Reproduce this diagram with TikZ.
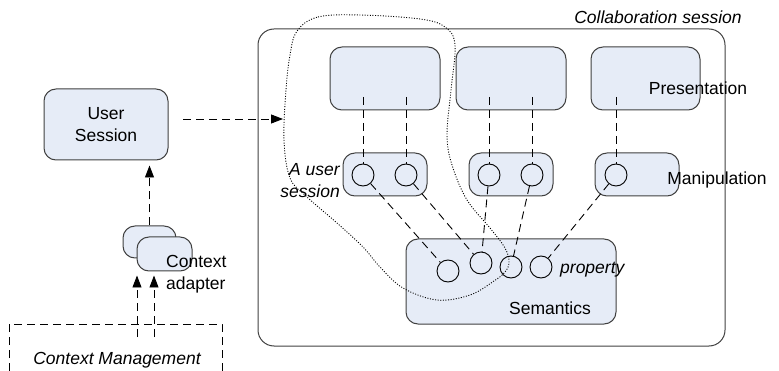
\documentclass[tikz,border=0pt]{standalone}
\usepackage{fontspec}
\setmainfont{Liberation Sans}
\usetikzlibrary{arrows.meta}
\usetikzlibrary{calc}
\definecolor{boxfill}{RGB}{230,236,247}
\definecolor{boxline}{RGB}{64,64,64}
\tikzset{
	txt/.style={inner sep=0pt, font=\fontsize{17.5}{22}\selectfont},
	itxt/.style={txt, font=\fontsize{17.5}{22}\selectfont\itshape},
	block/.style={draw=boxline, line width=1pt, fill=boxfill, rounded corners=12pt, inner sep=0pt},
	port/.style={draw=black, line width=0.9pt, fill=boxfill, circle, minimum size=22pt, inner sep=0pt},
	link/.style={line width=0.9pt, dash pattern=on 8pt off 5pt},
	flow/.style={link, -{Triangle[length=12pt,width=9pt]}},
}
\newcommand{\blockat}[5] % name, x, y, width, height
{
	\node[block, minimum width=#4pt, minimum height=#5pt] (#1) at (#2,#3) {};
}

\begin{document}
\begin{tikzpicture}[x=1pt, y=-1pt]
	\useasboundingbox (0,0) rectangle (779,371);

	% left side: user session and context
	\blockat{us}{106}{124.5}{124}{71}
	\node[txt, align=center] (ustxt) at (us) {User\\Session};
	\blockat{ca1}{149.5}{242}{53}{32}
	\blockat{ca2}{164.5}{254}{55}{34}
	\node[txt, align=left, anchor=west] (catxt) at (166,274) {Context\\adapter};

	% context management (open at the bottom)
	\draw[link] (9,371) -- (9,324) -- (222,324) -- (222,371);
	\node[itxt] (cmtxt) at (117,360) {Context Management};
	\coordinate (cm1) at (137,337);
	\coordinate (cm2) at (154,337);
	\draw[flow, shorten >=4pt] (cm1) -- (cm1 |- ca2.south);
	\draw[flow, shorten >=4pt] (cm2) -- (cm2 |- ca2.south);
	\draw[flow, shorten >=5pt] (ca1.north) -- (ca1.north |- us.south);

	% collaboration session
	\node[draw=boxline, line width=1pt, rounded corners=16pt, minimum width=467pt, minimum height=317pt] (collab) at (491.5,187.5) {};
	\node[itxt] (collabtxt) at (658,17) {Collaboration session};
	\coordinate (usout) at (183,119);
	\coordinate (usin) at (283,119);
	\draw[flow] (usout) -- (usin);

	% presentation layer
	\blockat{p1}{385}{78.5}{110}{63}
	\blockat{p2}{511}{78.5}{110}{63}
	\blockat{p3}{645.5}{78.5}{109}{63}
	\node[txt] (ptxt) at (698,88) {Presentation};

	% manipulation layer
	\blockat{m1}{385}{174.5}{84}{43}
	\blockat{m2}{511}{174.5}{84}{43}
	\blockat{m3}{637}{174.5}{84}{43}
	\node[txt] (mtxt) at (717,180) {Manipulation};
	\node[port] (m1a) at (363,175) {};
	\node[port] (m1b) at (406,175) {};
	\node[port] (m2a) at (489,175) {};
	\node[port] (m2b) at (532,175) {};
	\node[port] (m3a) at (616,175) {};

	% semantics layer
	\blockat{sem}{511}{281.5}{210}{85}
	\node[txt] (stxt) at (550,308) {Semantics};
	\node[port] (s1) at (448,271) {};
	\node[port] (s2) at (481,263) {};
	\node[port] (s3) at (511,267) {};
	\node[port] (s4) at (541,267) {};
	\node[itxt, anchor=west] (proptxt) at (560,270) {property};

	% presentation -> manipulation
	\foreach \m in {m1a,m1b,m2a,m2b,m3a}
		\draw[link] ($(\m)+(0,-78)$) -- (\m.north);

	% manipulation -> semantics
	\draw[link] (m1a) -- (s1);
	\draw[link] (m1b) -- (s2);
	\draw[link] (m2a) -- (s2);
	\draw[link] (m2b) -- (s3);
	\draw[link] (m3a) -- (s4);

	% one user's slice through the layers
	\draw[dash pattern=on 1pt off 1.6pt, line width=0.9pt] plot[smooth cycle, tension=0.6] coordinates {
		(297,31) (318,17) (360,15) (420,19) (445,27) (455,45) (451,90) (447,135)
		(452,165) (467,200) (490,228) (505,248) (509,262) (505,272) (494,281)
		(470,295) (437,300) (403,288) (380,267) (363,247) (337,223) (307,197)
		(290,178) (284,140) (286,90) (290,55)};
	\node[itxt, align=right, anchor=east] (ustxt2) at (340,181) {A user\\session};
\end{tikzpicture}
\end{document}
